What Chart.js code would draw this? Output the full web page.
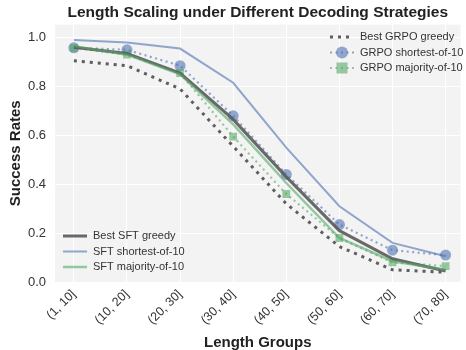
<!DOCTYPE html>
<html>
<head>
<meta charset="utf-8">
<script src="https://cdn.jsdelivr.net/npm/chart.js@4/dist/chart.umd.min.js"></script>
<style>
  html, body { margin: 0; padding: 0; background: #fff; }
  #wrap { width: 466px; height: 350px; }
</style>
</head>
<body>
<div id="wrap"><canvas id="chart" width="466" height="350"></canvas></div>
<script>
const groups = ["(1, 10]", "(10, 20]", "(20, 30]", "(30, 40]", "(40, 50]", "(50, 60]", "(60, 70]", "(70, 80]"]
const yTicks = [0, 0.2, 0.4, 0.6, 0.8, 1.0]

const grpoGreedy   = [0.905, 0.885, 0.79, 0.555, 0.32, 0.145, 0.05, 0.04]
const grpoShortest = [0.958, 0.95, 0.885, 0.68, 0.44, 0.235, 0.13, 0.11]
const grpoMajority = [0.958, 0.93, 0.855, 0.595, 0.36, 0.18, 0.08, 0.065]
const sftGreedy    = [0.96, 0.935, 0.855, 0.665, 0.43, 0.21, 0.095, 0.045]
const sftShortest  = [0.99, 0.98, 0.955, 0.815, 0.55, 0.31, 0.16, 0.105]
const sftMajority  = [0.965, 0.93, 0.85, 0.645, 0.405, 0.18, 0.085, 0.05]

const GRAY = "rgba(85, 85, 85, 0.95)"
const BLUE = "rgba(76, 114, 176, 0.6)"
const GREEN = "rgba(85, 168, 104, 0.6)"
const FONT = "'Liberation Sans', Arial, sans-serif"

const pts = arr => arr.map((v, i) => ({ x: i, y: v }))

function series(label, values, color, width, dash, marker, group, order) {
  return {
    label, group, order,
    data: pts(values),
    borderColor: color,
    backgroundColor: color,
    borderWidth: width,
    borderDash: dash,
    pointStyle: marker || "circle",
    pointRadius: marker ? 5.5 : 0,
    pointBorderWidth: 0,
    pointBackgroundColor: color,
    tension: 0,
    fill: false
  }
}

const datasets = [
  series("Best GRPO greedy", grpoGreedy, GRAY, 3, [3, 5], null, "top", 6),
  series("GRPO shortest-of-10", grpoShortest, BLUE, 2.2, [2, 3.5], "circle", "top", 5),
  series("GRPO majority-of-10", grpoMajority, GREEN, 2.2, [2, 3.5], "rect", "top", 4),
  series("Best SFT greedy", sftGreedy, "rgba(90, 90, 90, 0.9)", 3, [], null, "bottom", 3),
  series("SFT shortest-of-10", sftShortest, BLUE, 2, [], null, "bottom", 2),
  series("SFT majority-of-10", sftMajority, GREEN, 2.5, [], null, "bottom", 1)
]

// light panel behind the plot area
const panel = {
  id: "panel",
  beforeDraw(chart) {
    const { ctx, chartArea: a } = chart
    ctx.save()
    ctx.fillStyle = "#f3f3f3"
    ctx.fillRect(a.left, a.top, a.right - a.left, a.bottom - a.top)
    ctx.restore()
  }
}

// two legends: dotted GRPO runs top right, solid SFT runs bottom left
const legends = {
  id: "legends",
  afterDatasetsDraw(chart) {
    const { ctx } = chart
    const boxes = {
      top: { x: 330, y: 37, step: 15.5 },
      bottom: { x: 63, y: 236, step: 15.5 }
    }
    ctx.save()
    ctx.font = "11px " + FONT
    ctx.textBaseline = "middle"
    for (const key of ["top", "bottom"]) {
      const b = boxes[key]
      const items = chart.data.datasets.filter(d => d.group === key)
      items.forEach((d, i) => {
        const y = b.y + i * b.step
        ctx.strokeStyle = d.borderColor
        ctx.lineWidth = d.borderWidth
        ctx.setLineDash(d.borderDash || [])
        ctx.beginPath()
        ctx.moveTo(b.x, y)
        ctx.lineTo(b.x + 24, y)
        ctx.stroke()
        ctx.setLineDash([])
        if (d.pointRadius > 0) {
          ctx.fillStyle = d.pointBackgroundColor
          ctx.beginPath()
          if (d.pointStyle === "rect") {
            ctx.rect(b.x + 12 - 5.5, y - 5.5, 11, 11)
          } else {
            ctx.arc(b.x + 12, y, 6, 0, Math.PI * 2)
          }
          ctx.fill()
        }
        ctx.fillStyle = "#333"
        ctx.textAlign = "left"
        ctx.fillText(d.label, b.x + 30, y)
      })
    }
    ctx.restore()
  }
}

new Chart(document.getElementById("chart"), {
  type: "line",
  data: { datasets },
  plugins: [panel, legends],
  options: {
    responsive: false,
    animation: false,
    layout: { padding: { left: 0, right: 2, top: 0, bottom: 0 } },
    plugins: {
      legend: { display: false },
      tooltip: { enabled: false },
      title: {
        display: true,
        fullSize: false,
        text: "Length Scaling under Different Decoding Strategies",
        color: "#222",
        font: { family: FONT, size: 15.5, weight: "bold", lineHeight: 1.2 },
        padding: { top: 3, bottom: 3 }
      }
    },
    scales: {
      x: {
        type: "linear",
        min: -0.355,
        max: 7.28,
        afterFit(scale) { scale.height = 68 },
        afterBuildTicks(scale) { scale.ticks = groups.map((_, i) => ({ value: i })) },
        grid: { color: "#ffffff", lineWidth: 1, drawTicks: false },
        border: { display: false },
        ticks: {
          minRotation: 45,
          maxRotation: 45,
          padding: 5,
          color: "#333",
          font: { family: FONT, size: 12.5 },
          callback: v => groups[v]
        },
        title: {
          display: true,
          text: "Length Groups",
          color: "#222",
          font: { family: FONT, size: 15, weight: "bold", lineHeight: 1 },
          padding: { top: 0, bottom: 0 }
        }
      },
      y: {
        min: 0,
        max: 1.053,
        afterFit(scale) { scale.width = 55 },
        afterBuildTicks(scale) { scale.ticks = yTicks.map(v => ({ value: v })) },
        grid: { color: "#ffffff", lineWidth: 1, drawTicks: false },
        border: { display: false },
        ticks: {
          padding: 9,
          color: "#333",
          font: { family: FONT, size: 13 },
          callback: v => v.toFixed(1)
        },
        title: {
          display: true,
          text: "Success Rates",
          color: "#222",
          font: { family: FONT, size: 15, weight: "bold" },
          padding: { top: 7, bottom: 0 }
        }
      }
    }
  }
})
</script>
</body>
</html>
